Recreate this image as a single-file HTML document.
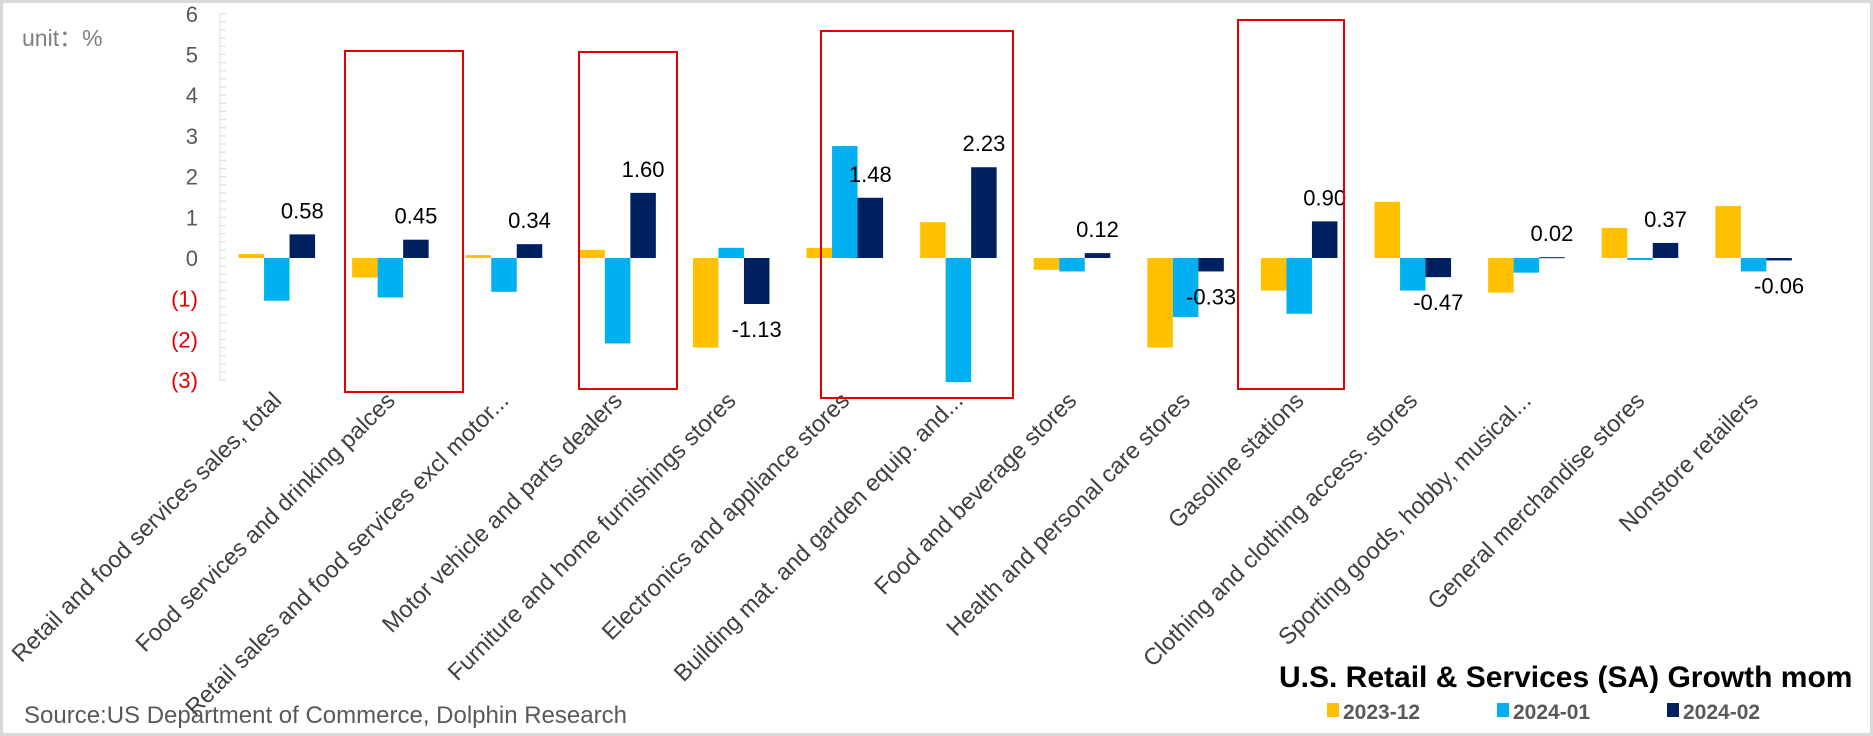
<!DOCTYPE html>
<html><head><meta charset="utf-8">
<style>
html,body{margin:0;padding:0;background:#fff}
svg{display:block;font-family:"Liberation Sans","Noto Sans CJK SC",sans-serif}
</style></head>
<body>
<svg id="chart" width="1873" height="736" viewBox="0 0 1873 736">
<rect x="1.5" y="1.5" width="1870" height="733" fill="#fff" stroke="#d9d9d9" stroke-width="3"/>
<text x="22" y="46" font-size="23" fill="#7f7f7f">unit：%</text>
<g id="axis"></g>
<g id="bars"></g>
<g id="labels"></g>
<g id="xlabels"></g>
<g fill="none" stroke="#e00000" stroke-width="2">
<rect x="345" y="51" width="118" height="341"/>
<rect x="579" y="52" width="98" height="337"/>
<rect x="821" y="31" width="192" height="367"/>
<rect x="1238" y="20" width="106" height="369"/>
</g>
<text x="24" y="723" font-size="24" fill="#595959">Source:US Department of Commerce, Dolphin Research</text>
<text x="1279" y="687" font-size="30" font-weight="bold" fill="#000">U.S. Retail &amp; Services (SA) Growth mom</text>
<g id="legend"></g>
</svg>
<script>
const categories = ["Retail and food services sales, total","Food services and drinking palces","Retail sales and food services excl motor...","Motor vehicle and parts dealers","Furniture and home furnishings stores","Electronics and appliance stores","Building mat. and garden equip. and...","Food and beverage stores","Health and personal care stores","Gasoline stations","Clothing and clothing access. stores","Sporting goods, hobby, musical...","General merchandise stores","Nonstore retailers"];
const seriesNames = ["2023-12","2024-01","2024-02"];
const values2023_12 = [0.10,-0.48,0.07,0.20,-2.20,0.25,0.88,-0.29,-2.20,-0.80,1.38,-0.85,0.74,1.28];
const values2024_01 = [-1.05,-0.97,-0.83,-2.10,0.25,2.75,-3.05,-0.33,-1.45,-1.37,-0.80,-0.36,-0.05,-0.33];
const values2024_02 = [0.58,0.45,0.34,1.60,-1.13,1.48,2.23,0.12,-0.33,0.90,-0.47,0.02,0.37,-0.06];
const printedLabels = ["0.58","0.45","0.34","1.60","-1.13","1.48","2.23","0.12","-0.33","0.90","-0.47","0.02","0.37","-0.06"];
const yTicks = [6,5,4,3,2,1,0,-1,-2,-3];
const yTickLabels = ["6","5","4","3","2","1","0","(1)","(2)","(3)"];
const colors = ["#ffc000","#00b0f0","#002060"];

const NS="http://www.w3.org/2000/svg";
const x0=220, catW=113.6, barW=25.5, y0=258, unit=40.7;
const yScale=v=>y0-v*unit;
const xCat=i=>x0+i*catW+catW/2;
function mk(tag,attrs,parent){const e=document.createElementNS(NS,tag);for(const k in attrs)e.setAttribute(k,attrs[k]);parent.appendChild(e);return e;}

const axis=document.getElementById('axis');
const axLine=mk('line',{x1:x0,x2:x0,y1:yScale(6),y2:yScale(-3),stroke:'#d9d9d9','stroke-width':1},axis);


for(let v=-3;v<=6.001;v+=0.2){
  const t=mk('line',{x1:x0,x2:x0+6,y1:yScale(v),y2:yScale(v),stroke:'#d9d9d9','stroke-width':1},axis);
  
  
}
yTicks.forEach((v,i)=>{
  const t=mk('text',{x:198,y:yScale(v)+8,'font-size':22,'text-anchor':'end',fill:v<0?'#e00000':'#595959'},axis);
  t.textContent=yTickLabels[i];
  
  
});

const bars=document.getElementById('bars');
const allSeries=[values2023_12,values2024_01,values2024_02];
const barNames=['bar-2023-12','bar-2024-01','bar-2024-02'];
allSeries.forEach((ser,s)=>{
  ser.forEach((v,i)=>{
    const x=xCat(i)-1.5*barW+s*barW;
    const y=Math.min(yScale(v),yScale(0));
    const h=Math.max(Math.abs(yScale(v)-yScale(0)),1);
    const r=mk('rect',{x:x,y:y,width:barW,height:h,fill:colors[s]},bars);
    
    
  });
});

const labels=document.getElementById('labels');
values2024_02.forEach((v,i)=>{
  const cx=xCat(i)+barW;
  const y=v>=0?yScale(v)-16:yScale(v)+33;
  const t=mk('text',{x:cx,y:y,'font-size':22,'text-anchor':'middle',fill:'#000'},labels);
  t.textContent=printedLabels[i];
  
  
});

const xl=document.getElementById('xlabels');
categories.forEach((c,i)=>{
  const x=xCat(i)+6, y=402;
  const t=mk('text',{x:x,y:y,'font-size':23.5,'text-anchor':'end',fill:'#404040',transform:`rotate(-45 ${x} ${y})`},xl);
  t.textContent=c;
  
  
});

const lg=document.getElementById('legend');
const lx=[1327,1497,1667];
seriesNames.forEach((n,i)=>{
  const r=mk('rect',{x:lx[i],y:703,width:12,height:14,fill:colors[i]},lg);
  
  
  const t=mk('text',{x:lx[i]+16,y:719,'font-size':21,'font-weight':'bold',fill:'#595959'},lg);
  t.textContent=n;
  
  
});
</script>
</body></html>
